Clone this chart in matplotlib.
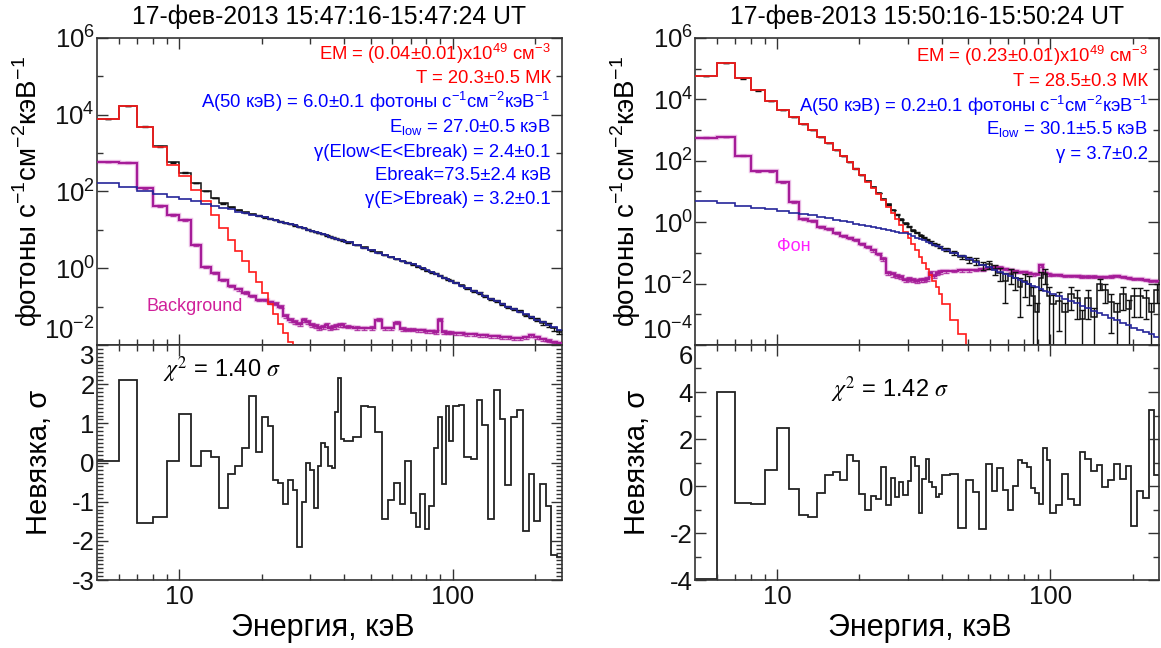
import numpy as np
import matplotlib
matplotlib.use('Agg')
import matplotlib.pyplot as plt
from matplotlib.ticker import FixedLocator, NullFormatter, FixedFormatter, LogFormatterMathtext

plt.rcParams['font.family'] = ['Liberation Sans', 'DejaVu Sans']
plt.rcParams['axes.unicode_minus'] = False

# energy bin edges, keV (same binning for both intervals)
edges = [5, 6, 7, 8, 9, 10, 11, 12, 13, 14, 15, 16, 17, 18, 19, 20, 21, 22, 23, 24, 25,
         26, 27, 28, 29, 30, 31, 32, 33, 34, 35, 36, 37, 38, 39, 40,
         43, 46, 49, 52, 55, 58, 61, 64, 67, 70, 73, 76, 79, 82, 85, 88, 91, 94, 97, 100,
         105, 110, 116, 122, 128, 134, 141, 148, 155, 163, 171, 180, 189, 198, 208, 218,
         229, 240, 250]

# ---- 15:47:16-15:47:24 ----
therm_1 = [7.6e3, 1.7e4, 4.8e3, 1.4e3, 5.0e2, 2.5e2, 1.1e2, 55, 25, 11, 5.5, 2.8, 1.5, 0.8,
           0.45, 0.22, 0.12, 0.065, 0.035, 0.02, 0.012, 0.006, 0.003]
nonth_1 = [170, 130, 105, 88, 74, 64, 55, 48, 43, 38, 34, 30, 27, 25, 23, 21, 19.5, 18, 16.5,
           15, 14, 13, 12, 11, 10.2, 9.5, 8.8, 8.2, 7.7, 7.2, 6.7, 6.3, 5.9, 5.6, 5.3,
           4.7, 4.0, 3.4, 2.9, 2.56, 2.25, 1.98, 1.76, 1.57, 1.41, 1.28, 1.14, 1.0, 0.89, 0.79,
           0.705, 0.63, 0.57, 0.515, 0.465,
           0.41, 0.35, 0.30, 0.255, 0.22, 0.19, 0.16, 0.137, 0.117, 0.10, 0.086, 0.074, 0.063,
           0.054, 0.046, 0.039, 0.034, 0.029, 0.025]
data_1 = [7.8e3, 1.7e4, 4.9e3, 1.5e3, 5.7e2, 3.1e2, 1.65e2, 1.03e2, 68, 49, 39.5, 32.8, 28.5,
          25.8, 23.5, 21.2, 19.6, 18.1, 16.5, 15, 14, 13, 12, 11, 10.2, 9.5, 8.8, 8.2, 7.7, 7.2,
          6.7, 6.3, 5.9, 5.6, 5.3,
          4.75, 4.05, 3.5, 2.95, 2.6, 2.2, 1.95, 1.74, 1.54, 1.41, 1.26, 1.11, 0.99, 0.87, 0.78,
          0.71, 0.64, 0.565, 0.52, 0.47,
          0.42, 0.36, 0.30, 0.255, 0.225, 0.192, 0.157, 0.141, 0.119, 0.099, 0.088, 0.076, 0.061,
          0.054, 0.045, 0.038, 0.033, 0.027, 0.022]
data_err_1 = [0.01, 0.01, 0.01, 0.01, 0.01, 0.01, 0.01, 0.01, 0.01, 0.01, 0.01, 0.01, 0.01, 0.01,
              0.01, 0.01, 0.01, 0.01, 0.01, 0.01, 0.01, 0.01, 0.012, 0.012, 0.012, 0.012, 0.013,
              0.013, 0.013, 0.014, 0.014, 0.014, 0.015, 0.015, 0.015,
              0.015, 0.016, 0.017, 0.018, 0.019, 0.02, 0.021, 0.022, 0.023, 0.024, 0.025, 0.026,
              0.027, 0.028, 0.03, 0.031, 0.032, 0.034, 0.035, 0.036,
              0.04, 0.042, 0.045, 0.048, 0.05, 0.053, 0.056, 0.06, 0.063, 0.067, 0.07, 0.075,
              0.08, 0.085, 0.09, 0.1, 0.11, 0.12, 0.13]
bkg_1 = [590, 560, 120, 42, 24.5, 18, 4.1, 1.1, 0.75, 0.5, 0.34, 0.28, 0.23, 0.19, 0.15, 0.15,
         0.13, 0.12, 0.1, 0.056, 0.046, 0.04, 0.036, 0.045, 0.04, 0.033, 0.032, 0.028, 0.03,
         0.033, 0.028, 0.03, 0.031, 0.034, 0.033,
         0.030, 0.028, 0.027, 0.028, 0.045, 0.027, 0.027, 0.038, 0.026, 0.025, 0.025, 0.024,
         0.024, 0.023, 0.023, 0.022, 0.045, 0.022, 0.021, 0.021,
         0.020, 0.020, 0.019, 0.019, 0.018, 0.018, 0.017, 0.017, 0.016, 0.016, 0.015, 0.015,
         0.016, 0.018, 0.016, 0.014, 0.013, 0.012, 0.011]
bkg_err_1 = [0.02, 0.02, 0.03, 0.04, 0.04, 0.05, 0.05, 0.06, 0.06, 0.07, 0.07, 0.08, 0.08, 0.08,
             0.08, 0.08, 0.09, 0.09, 0.1, 0.12, 0.12, 0.13, 0.13, 0.12, 0.12, 0.13, 0.13, 0.14,
             0.14, 0.13, 0.14, 0.14, 0.14, 0.13, 0.13,
             0.1, 0.1, 0.1, 0.1, 0.09, 0.1, 0.1, 0.09, 0.1, 0.1, 0.1, 0.1, 0.1, 0.1, 0.1, 0.1,
             0.09, 0.1, 0.1, 0.1,
             0.08, 0.08, 0.08, 0.08, 0.08, 0.08, 0.08, 0.08, 0.08, 0.08, 0.08, 0.08, 0.08, 0.08,
             0.08, 0.08, 0.08, 0.08, 0.08]
resid_1 = [0.03, 2.1, -1.55, -1.4, 0.05, 1.25, -0.08, 0.3, 0.15, -1.17, -0.3, -0.08, 0.38, 1.7,
           0.27, 1.15, 0.93, -0.45, -0.52, -1.05, -0.45, -0.7, -2.15, -1.0, -0.02, -0.18, -1.17,
           -0.1, 0.5, 0.4, -0.1, -0.15, 1.3, 2.15, 0.6,
           0.55, 0.65, 1.45, 1.42, 0.77, -1.45, -0.95, -0.53, -1.07, 0.05, -1.3, -1.65, -0.8,
           -1.7, -1.1, 0.37, 1.15, -0.55, 1.45, 0.55,
           1.45, 1.47, 0.15, 0.1, 1.6, 0.95, -1.45, 1.85, 1.1, -0.57, 1.17, 1.35, -1.75, -0.3,
           -1.5, -0.55, -1.1, -2.35, -2.4]

# ---- 15:50:16-15:50:24 ----
therm_2 = [5.8e4, 1.5e5, 4.8e4, 1.95e4, 8.9e3, 4.5e3, 2.7e3, 1.6e3, 9.8e2, 6.0e2, 3.7e2, 2.3e2,
           1.4e2, 88, 55, 34, 21, 13, 8.2, 5.1, 3.2, 2.0, 1.25, 0.78, 0.49, 0.31, 0.19, 0.12,
           0.076, 0.048, 0.030, 0.019, 0.012, 0.0075, 0.0047, 0.0022, 6.5e-4, 2.2e-4, 6e-5]
nonth_2 = [5.0, 4.1, 3.45, 2.95, 2.6, 2.3, 2.06, 1.86, 1.7, 1.5, 1.34, 1.2, 1.08, 0.98, 0.90,
           0.82, 0.76, 0.70, 0.65, 0.60, 0.56, 0.53, 0.49, 0.46, 0.435, 0.40, 0.355, 0.316,
           0.283, 0.254, 0.228, 0.206, 0.186, 0.169, 0.154,
           0.128, 0.099, 0.078, 0.062, 0.050, 0.041, 0.034, 0.028, 0.0237, 0.0201, 0.0171,
           0.0147, 0.0127, 0.011, 0.0096, 0.0085, 0.0075, 0.0066, 0.0059, 0.0053,
           0.0046, 0.00385, 0.0032, 0.0027, 0.00225, 0.00188, 0.00157, 0.00131, 0.0011,
           0.00092, 0.00077, 0.00064, 0.00053, 0.00045, 0.00037, 0.00031, 0.00026, 0.00022,
           0.00018]
data_2 = [5.8e4, 1.5e5, 4.8e4, 1.95e4, 8.9e3, 4.5e3, 2.7e3, 1.6e3, 9.8e2, 6.0e2, 3.7e2, 2.3e2,
          1.4e2, 89, 56, 35, 22, 13.7, 8.9, 5.7, 3.8, 2.5, 1.75, 1.25, 0.93, 0.72, 0.55, 0.45,
          0.37, 0.31, 0.27, 0.23, 0.2, 0.18, 0.16,
          0.13, 0.10, 0.075, 0.06, 0.055, 0.04, 0.042, 0.03, 0.022, 0.012, 0.02, 0.015, 0.008,
          0.012, 0.010, 0.004, 0.0012, 0.015, 0.02, 0.004,
          0.0022, 0.0028, 0.0012, 0.0045, 0.0035, 0.0007, 0.0035, 0.0008, 0.010, 0.006, 0.0025,
          0.0012, 0.0045, 0.0015, 0.004, 0.004, 0.0035, 0.0012, 0.006]
data_err_2 = [0.01, 0.01, 0.01, 0.01, 0.01, 0.01, 0.01, 0.01, 0.01, 0.01, 0.01, 0.01, 0.01, 0.01,
              0.01, 0.01, 0.015, 0.015, 0.02, 0.02, 0.025, 0.025, 0.03, 0.03, 0.035, 0.04, 0.04,
              0.045, 0.05, 0.05, 0.06, 0.06, 0.07, 0.07, 0.08,
              0.12, 0.15, 0.18, 0.2, 0.25, 0.3, 0.3, 0.35, 0.45, 0.8, 0.5, 0.6, 0.9, 0.7, 0.8,
              1.0, 1.0, 0.6, 0.5, 1.0,
              1.0, 0.9, 1.0, 0.7, 0.8, 1.0, 0.8, 1.0, 0.4, 0.6, 0.9, 1.0, 0.7, 1.0, 0.8, 0.8,
              0.8, 1.0, 0.6]
bkg_2 = [570, 600, 145, 45, 45, 20, 4.5, 1.3, 1.1, 0.69, 0.6, 0.45, 0.35, 0.3, 0.26, 0.2, 0.155,
         0.12, 0.093, 0.064, 0.022, 0.02, 0.018, 0.016, 0.013, 0.014, 0.013, 0.012, 0.013, 0.013,
         0.014, 0.022, 0.018, 0.022, 0.024,
         0.025, 0.026, 0.027, 0.027, 0.028, 0.029, 0.032, 0.035, 0.033, 0.030, 0.027, 0.025,
         0.024, 0.023, 0.022, 0.020, 0.021, 0.040, 0.022, 0.020,
         0.019, 0.019, 0.018, 0.018, 0.018, 0.017, 0.017, 0.017, 0.016, 0.016, 0.017, 0.018,
         0.016, 0.015, 0.014, 0.014, 0.013, 0.012, 0.012]
bkg_err_2 = [0.02, 0.02, 0.03, 0.04, 0.04, 0.05, 0.05, 0.06, 0.06, 0.07, 0.07, 0.08, 0.08, 0.08,
             0.08, 0.08, 0.09, 0.09, 0.1, 0.12, 0.15, 0.15, 0.15, 0.15, 0.15, 0.15, 0.15, 0.15,
             0.15, 0.15, 0.15, 0.15, 0.15, 0.15, 0.15,
             0.1, 0.1, 0.1, 0.1, 0.09, 0.1, 0.1, 0.09, 0.1, 0.1, 0.1, 0.1, 0.1, 0.1, 0.1, 0.1,
             0.09, 0.1, 0.1, 0.1,
             0.08, 0.08, 0.08, 0.08, 0.08, 0.08, 0.08, 0.08, 0.08, 0.08, 0.08, 0.08, 0.08, 0.08,
             0.08, 0.08, 0.08, 0.08, 0.08]
resid_2 = [-3.97, 4.02, -0.72, -0.78, 0.7, 2.45, -0.12, -1.22, -1.3, -0.3, 0.48, 0.58, 0.25, 1.3,
           1.07, -0.35, -1.03, -0.43, -0.55, 0.8, -0.8, 0.35, -0.45, 0.15, -0.4, 0.2, 1.25, 0.85,
           -1.15, 0.3, 1.13, 0.15, -0.05, -0.45, -0.35,
           0.45, 0.5, -1.8, 0.25, -0.25, -1.85, 0.95, -0.2, 0.75, -0.15, -1.0, 0.0, 1.1, 1.0,
           0.8, -0.1, -0.3, -0.75, 1.6, 1.1,
           -1.15, -0.8, 0.5, -0.55, -0.8, 1.45, 1.15, 0.65, 0.9, -0.03, 0.25, 0.95, 0.3, 0.85,
           -1.7, -0.2, -0.5, 3.25, 0.45]

C_RED = '#ff1a1a'
C_BLUE = '#25259a'
C_MAG = '#a51c98'
C_AX = '#333333'


def style_axes(ax):
    ax.set_xscale('log')
    ax.set_xlim(5, 250)
    ax.xaxis.set_major_locator(FixedLocator([10, 100]))
    ax.xaxis.set_major_formatter(FixedFormatter(['10', '100']))
    ax.xaxis.set_minor_locator(FixedLocator([6, 7, 8, 9, 20, 30, 40, 50, 60, 70, 80, 90, 200]))
    ax.xaxis.set_minor_formatter(NullFormatter())
    ax.tick_params(which='both', direction='in', top=True, right=True, colors=C_AX,
                   labelcolor='#111111', labelsize=18.5, width=1.0)
    ax.tick_params(which='major', length=8)
    ax.tick_params(which='minor', length=4)
    ax.tick_params(axis='y', pad=1.5)
    for s in ax.spines.values():
        s.set_color(C_AX)
        s.set_linewidth(1.2)


def draw_panel(x0, w, title, therm, nonth, data, data_err, bkg, bkg_err, resid,
               ymin_exp, rlim, rmajor, rminor, texts, bg_label, chi_text, chi_pos):
    ax = fig.add_axes([x0, 0.4676, w, 0.4738])
    axr = fig.add_axes([x0, 0.1049, w, 0.3627])
    e = np.array(edges, dtype=float)
    ec = np.sqrt(e[:-1] * e[1:])

    # background with error bars
    b = np.array(bkg)
    ax.errorbar(ec, b, yerr=b * np.array(bkg_err), fmt='none', ecolor=C_MAG, elinewidth=1.0,
                capsize=2.0, alpha=0.8, zorder=2)
    ax.stairs(b, e, color='#e7a3df', lw=3.2, baseline=None, zorder=1, alpha=0.6)
    ax.stairs(b, e, color=C_MAG, lw=1.6, baseline=None, zorder=3)

    # observed spectrum
    d = np.array(data)
    de = d * np.array(data_err)
    lo = np.minimum(de, d * 0.999)
    ax.errorbar(ec, d, yerr=[lo, de], fmt='none', ecolor='#111111', elinewidth=1.0,
                capsize=2.0, zorder=4)
    ax.stairs(d, e, color='#111111', lw=1.1, baseline=None, zorder=4)

    # thermal and non-thermal components
    ax.stairs(therm, e[:len(therm) + 1], color=C_RED, lw=1.2, baseline=None, zorder=5)
    ax.stairs(nonth, e, color=C_BLUE, lw=1.2, baseline=None, zorder=5)

    style_axes(ax)
    ax.set_yscale('log')
    ax.set_ylim(10.0 ** ymin_exp, 1e6)
    ax.yaxis.set_major_locator(FixedLocator([10.0 ** k for k in range(ymin_exp, 7, 2)]))
    ax.yaxis.set_major_formatter(LogFormatterMathtext())
    ax.yaxis.set_minor_locator(FixedLocator([10.0 ** k for k in range(ymin_exp + 1, 6, 2)]))
    ax.yaxis.set_minor_formatter(NullFormatter())
    ax.tick_params(labelbottom=False)
    ax.set_ylabel(r'фотоны с$^{\mathdefault{-1}}$см$^{\mathdefault{-2}}$кэВ$^{\mathdefault{-1}}$',
                  fontsize=20)
    ax.yaxis.set_label_coords(-0.112, 0.5)
    ax.text(0.5, 1.07, title, transform=ax.transAxes, ha='center', va='center', fontsize=17.8)

    for (txt, yy, col) in texts:
        ax.text(0.976, yy, txt, transform=ax.transAxes, ha='right', va='center',
                color=col, fontsize=13.3)
    ax.text(bg_label[1], bg_label[2], bg_label[0], transform=ax.transAxes, ha='center',
            va='center', color=bg_label[3], fontsize=13)

    # residuals
    axr.stairs(resid, e, color='#222222', lw=1.3, baseline=None)
    style_axes(axr)
    axr.set_ylim(*rlim)
    axr.yaxis.set_major_locator(FixedLocator(rmajor))
    axr.yaxis.set_major_formatter(FixedFormatter([str(v) for v in rmajor]))
    axr.yaxis.set_minor_locator(FixedLocator(rminor))
    axr.set_ylabel('Невязка, σ', fontsize=21)
    axr.yaxis.set_label_coords(-0.095, 0.5)
    axr.set_xlabel('Энергия, кэВ', fontsize=22)
    axr.xaxis.set_label_coords(0.485, -0.14)
    axr.text(chi_pos[0], chi_pos[1], chi_text, transform=axr.transAxes, ha='left',
             va='center', fontsize=17, math_fontfamily='stix')
    return ax, axr


fig = plt.figure(figsize=(11.61, 6.48), dpi=100)

texts_1 = [
    (r'EM = (0.04±0.01)x10$^{\mathdefault{49}}$ см$^{\mathdefault{-3}}$', 0.948, '#ff0000'),
    ('T = 20.3±0.5 МК', 0.867, '#ff0000'),
    (r'A(50 кэВ) = 6.0±0.1 фотоны с$^{\mathdefault{-1}}$см$^{\mathdefault{-2}}$кэВ$^{\mathdefault{-1}}$',
     0.792, '#0000ff'),
    (r'E$_{\mathdefault{low}}$ = 27.0±0.5 кэВ', 0.710, '#0000ff'),
    ('γ(Elow<E<Ebreak) = 2.4±0.1', 0.628, '#0000ff'),
    ('Ebreak=73.5±2.4 кэВ', 0.553, '#0000ff'),
    ('γ(E>Ebreak) = 3.2±0.1', 0.473, '#0000ff'),
]
texts_2 = [
    (r'EM = (0.23±0.01)x10$^{\mathdefault{49}}$ см$^{\mathdefault{-3}}$', 0.941, '#ff0000'),
    ('T = 28.5±0.3 МК', 0.859, '#ff0000'),
    (r'A(50 кэВ) = 0.2±0.1 фотоны с$^{\mathdefault{-1}}$см$^{\mathdefault{-2}}$кэВ$^{\mathdefault{-1}}$',
     0.780, '#0000ff'),
    (r'E$_{\mathdefault{low}}$ = 30.1±5.5 кэВ', 0.702, '#0000ff'),
    ('γ = 3.7±0.2', 0.622, '#0000ff'),
]

panels = []
panels.append(draw_panel(0.0835, 0.4005, '17-фев-2013 15:47:16-15:47:24 UT', therm_1, nonth_1,
                         data_1, data_err_1, bkg_1, bkg_err_1, resid_1, -2, (-3, 3),
                         [-3, -2, -1, 0, 1, 2, 3], [v / 10.0 for v in range(-30, 31)], texts_1,
                         ('Background', 0.211, 0.124, '#d0209a'),
                         r'$\chi^{2}$ = 1.40 $\sigma$', (0.142, 0.894)))
panels.append(draw_panel(0.5986, 0.3997, '17-фев-2013 15:50:16-15:50:24 UT', therm_2, nonth_2,
                         data_2, data_err_2, bkg_2, bkg_err_2, resid_2, -4, (-4, 6),
                         [-4, -2, 0, 2, 4, 6], [-3, -1, 1, 3, 5], texts_2,
                         ('Фон', 0.213, 0.322, '#ff22ff'),
                         r'$\chi^{2}$ = 1.42 $\sigma$', (0.293, 0.809)))

# keep the shared-edge tick labels apart: lowest spectrum label up, top residual label down
fig.canvas.draw()
for ax, axr in panels:
    ax.yaxis.get_major_ticks()[0].label1.set_va('bottom')
    axr.yaxis.get_major_ticks()[-1].label1.set_va('top')

fig.savefig('out.png', dpi=100)
